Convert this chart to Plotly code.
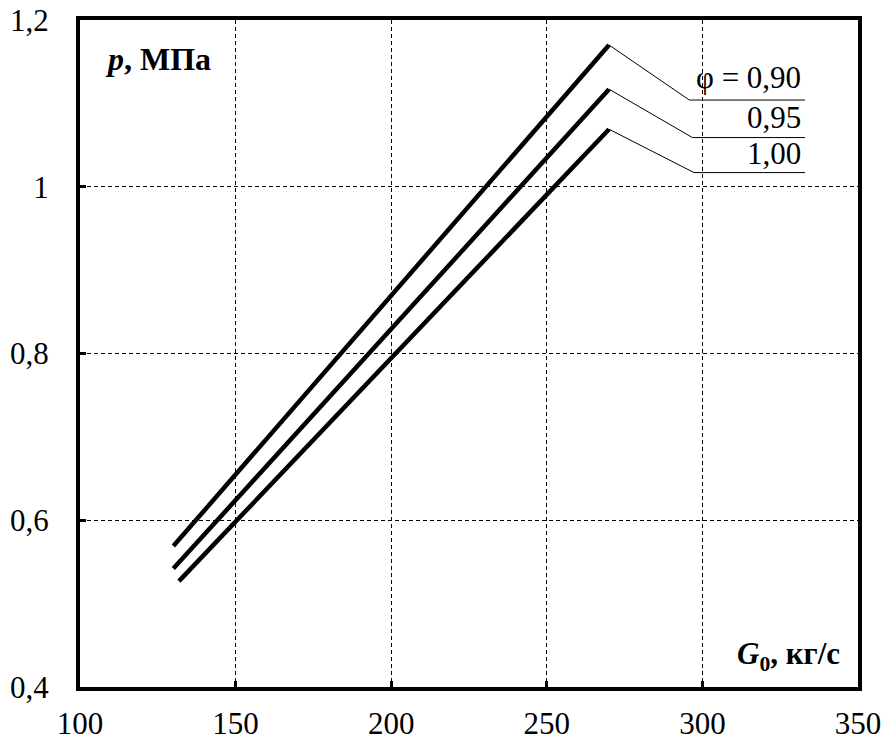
import plotly.graph_objects as go

# Data
phi_labels = ["φ = 0,90", "0,95", "1,00"]
G_start = [130.0, 130.0, 131.8]
G_peak = [270.0, 270.0, 270.0]
p_start = [0.569, 0.542, 0.527]
p_peak = [1.170, 1.117, 1.069]

x_ticks = [100, 150, 200, 250, 300, 350]
x_ticktext = ["100", "150", "200", "250", "300", "350"]
y_ticks = [0.4, 0.6, 0.8, 1.0, 1.2]
y_ticktext = ["0,4", "0,6", "0,8", "1", "1,2"]

# leader line geometry (annotation decoration)
leader_dx = [25.8, 26.8, 27.3]
leader_dy = [-0.066, -0.058, -0.052]
leader_end = 333.0
label_x = 332.3
label_dy = [0.0236, 0.0206, 0.0194]

FONT = "Liberation Serif"

fig = go.Figure()

for i in range(3):
    fig.add_trace(go.Scatter(
        x=[G_start[i], G_peak[i]], y=[p_start[i], p_peak[i]],
        mode="lines", line=dict(color="black", width=4.5),
        showlegend=False, hoverinfo="skip"))
    kx = G_peak[i] + leader_dx[i]
    ky = p_peak[i] + leader_dy[i]
    fig.add_trace(go.Scatter(
        x=[G_peak[i], kx, leader_end], y=[p_peak[i], ky, ky],
        mode="lines", line=dict(color="black", width=1),
        showlegend=False, hoverinfo="skip"))
    fig.add_annotation(x=label_x, y=ky + label_dy[i], yshift=3,
                       xref="x", yref="y", text=phi_labels[i], showarrow=False,
                       xanchor="right", yanchor="middle",
                       font=dict(family=FONT, size=31, color="black"))

fig.add_annotation(x=107.3, y=1.1496, yshift=3, xref="x", yref="y",
                   text="<b><i>p</i>, МПа</b>", showarrow=False,
                   xanchor="left", yanchor="middle",
                   font=dict(family=FONT, size=32, color="black"))
fig.add_annotation(x=345.0, y=0.434, yshift=3, xref="x", yref="y",
                   text="<b><i>G</i><sub>0</sub>, кг/с</b>", showarrow=False,
                   xanchor="right", yanchor="middle",
                   font=dict(family=FONT, size=31, color="black"))

axis_common = dict(
    showline=True, linewidth=4, linecolor="black", mirror=True,
    showgrid=True, gridcolor="black", gridwidth=1, griddash="4px,3px",
    ticks="inside", ticklen=6, tickwidth=3, tickcolor="black",
    zeroline=False, automargin=False,
    tickfont=dict(family=FONT, size=31, color="black"),
)

fig.update_xaxes(range=[100, 350], tickvals=x_ticks, ticktext=x_ticktext,
                 ticklabelstandoff=6, **axis_common)
fig.update_yaxes(range=[0.4, 1.2], tickvals=y_ticks, ticktext=y_ticktext,
                 ticklabelstandoff=21, **axis_common)

fig.update_layout(
    width=885, height=740,
    margin=dict(l=80, r=27, t=20, b=53),
    paper_bgcolor="white", plot_bgcolor="white",
    font=dict(family=FONT, color="black"),
    showlegend=False,
)

fig.write_html("out.html")
